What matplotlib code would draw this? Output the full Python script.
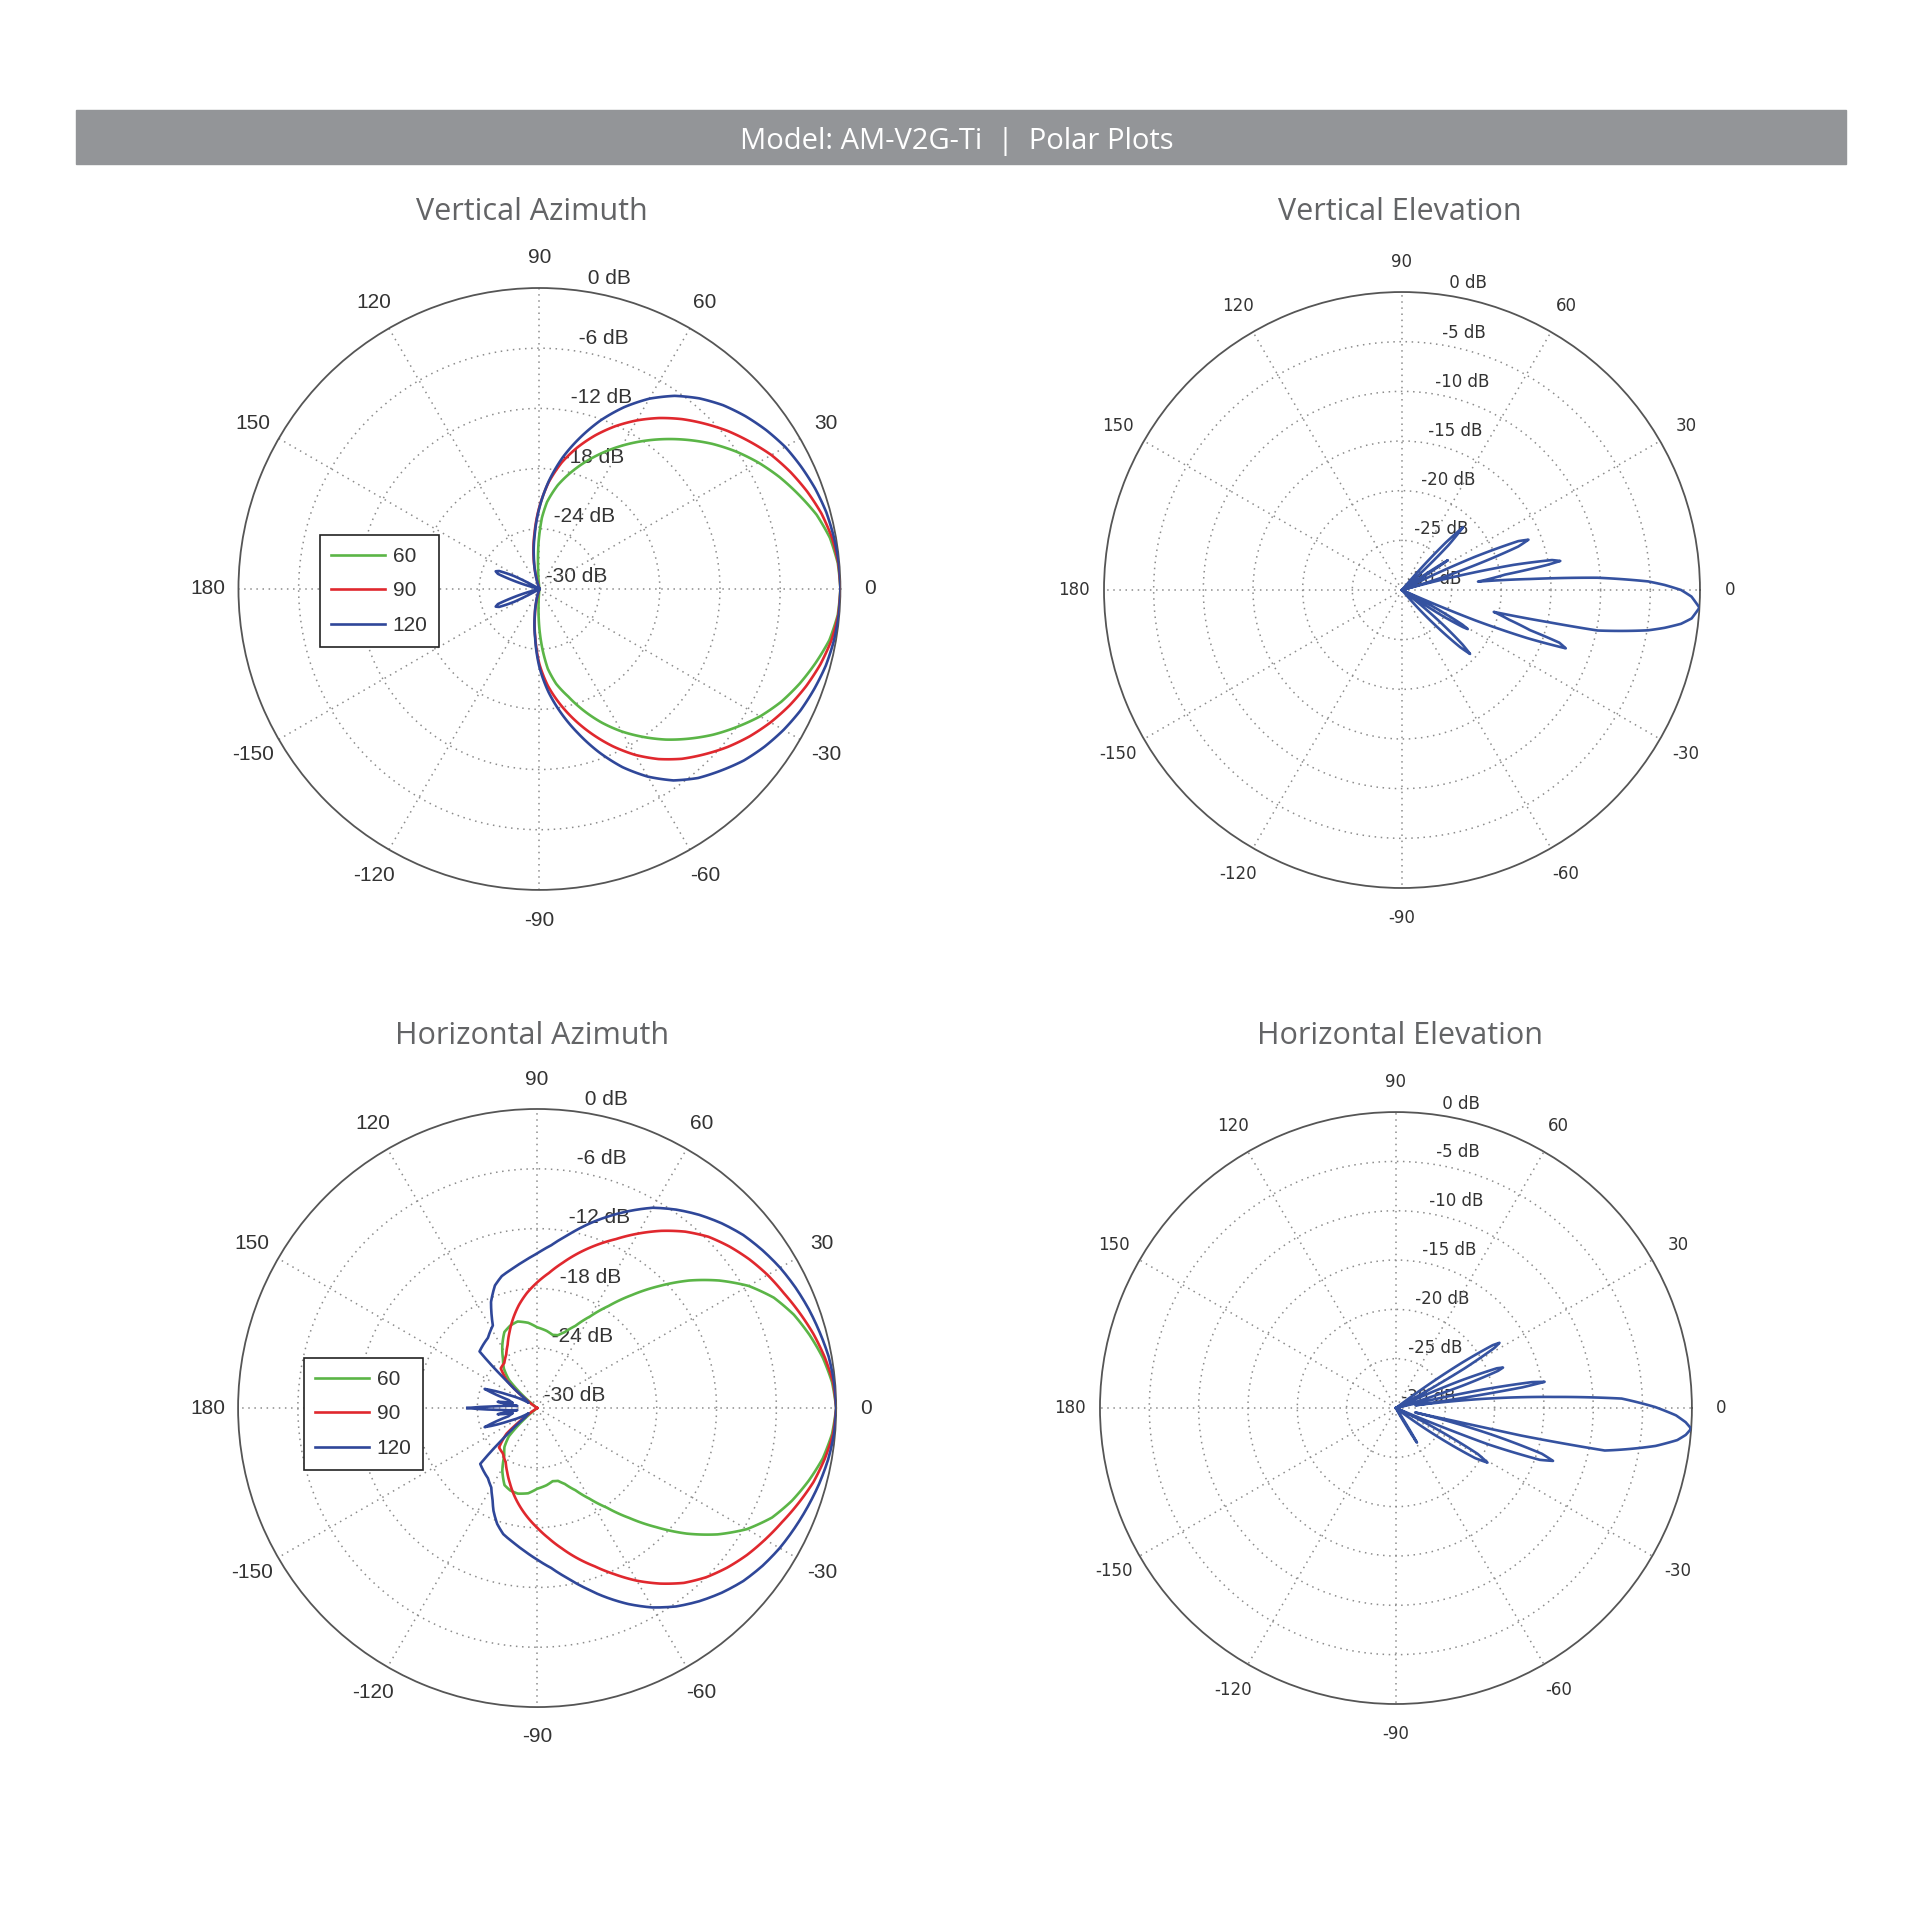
#polar plots for AM-V2G-Ti antenna patterns
import matplotlib
matplotlib.use('Agg')
import matplotlib.pyplot as plt
from matplotlib.patches import Rectangle
import numpy as np

# Vertical Azimuth (dB vs angle in degrees)
va60_ang = [-180, -96, -93, -90, -87, -84, -80, -75, -70, -65, -60, -55, -50, -45, -40, -35, -30, -25, -20, -15, -10, -5, 0, 5, 10, 15, 20, 25, 30, 35, 40, 45, 50, 55, 60, 65, 70, 75, 80, 85, 88, 91, 94, 97, 180]
va60_db = [-30, -30, -28.3, -26.0, -23.9, -22.0, -20.4, -18.9, -17.1, -15.3, -13.6, -12.0, -10.4, -8.9, -7.4, -6.0, -4.6, -3.4, -2.4, -1.5, -0.65, -0.15, 0, -0.15, -0.6, -1.4, -2.5, -3.6, -4.8, -6.1, -7.5, -9.0, -10.5, -12.0, -13.5, -15.0, -16.5, -18.0, -19.5, -21.3, -22.9, -25.3, -28.2, -30, -30]
va90_ang = [-180, -108, -104, -100, -95, -90, -85, -80, -75, -70, -65, -60, -55, -50, -45, -40, -35, -30, -25, -20, -15, -10, -5, 0, 5, 10, 15, 20, 25, 30, 35, 40, 45, 50, 55, 60, 65, 70, 75, 80, 85, 90, 95, 100, 104, 108, 180]
va90_db = [-30, -30, -28.8, -27.4, -25.2, -22.5, -20.3, -18.4, -16.5, -14.6, -12.7, -10.9, -9.3, -7.9, -6.7, -5.5, -4.4, -3.4, -2.5, -1.7, -1.0, -0.45, -0.1, 0, -0.1, -0.4, -0.9, -1.6, -2.4, -3.3, -4.4, -5.5, -6.7, -7.9, -9.2, -10.6, -12.1, -13.7, -15.4, -17.2, -19.3, -21.8, -24.4, -26.6, -28.3, -30, -30]
va120_ang = [-180, -166, -162.5, -160, -158, -156, -153, -150, -110, -104, -100, -95, -90, -85, -80, -75, -70, -65, -60, -55, -50, -45, -40, -35, -30, -25, -20, -15, -10, -5, 0, 5, 10, 15, 20, 25, 30, 35, 40, 45, 50, 55, 60, 65, 70, 75, 80, 85, 90, 95, 100, 104, 110, 150, 153, 156, 158, 160, 162.5, 166, 180]
va120_db = [-30, -30, -27.5, -25.6, -25.3, -25.6, -27.2, -30, -30, -28.6, -27.3, -25.1, -22.2, -19.7, -17.4, -15.1, -12.7, -10.4, -8.4, -6.7, -5.4, -4.4, -3.4, -2.6, -1.9, -1.3, -0.85, -0.45, -0.2, -0.05, 0, -0.05, -0.2, -0.4, -0.75, -1.2, -1.7, -2.4, -3.2, -4.1, -5.2, -6.5, -8.1, -10.0, -12.1, -14.4, -16.7, -19.2, -21.9, -24.6, -26.8, -28.2, -30, -30, -27.2, -25.6, -25.3, -25.6, -27.5, -30, -30]

# Horizontal Azimuth
ha60_ang = [-180, -142, -135, -130, -124.6, -119, -112.9, -108, -102.7, -96, -90, -83, -78, -74, -70, -65, -60, -55, -50, -45, -40, -35, -30, -25, -20, -15, -10, -5, 0, 5, 10, 15, 20, 25, 30, 35, 40, 45, 50, 55, 60, 65, 70, 74, 78, 83, 90, 96, 102.7, 108, 113.3, 119, 124.8, 130, 135, 142, 180]
ha60_db = [-30, -30, -26, -24.9, -24.2, -22.8, -21.6, -21.3, -21.2, -21.4, -21.9, -22.2, -22.5, -22.4, -21.9, -20.9, -19.5, -17.8, -15.6, -13.1, -10.4, -7.9, -5.7, -4.0, -2.8, -1.8, -0.9, -0.3, 0, -0.3, -0.9, -1.7, -2.6, -3.8, -5.5, -7.7, -10.1, -12.7, -15.2, -17.5, -19.4, -20.9, -21.9, -22.4, -22.5, -22.2, -21.9, -21.4, -21.1, -21.3, -21.7, -22.8, -24.0, -24.8, -26, -30, -30]
ha90_ang = [-180, -146, -140, -134, -127, -120, -115, -110, -105, -100, -95, -90, -85, -80, -75, -70, -65, -60, -55, -50, -45, -40, -35, -30, -25, -20, -15, -10, -5, 0, 5, 10, 15, 20, 25, 30, 35, 40, 45, 50, 55, 60, 65, 70, 75, 80, 85, 90, 95, 100, 105, 110, 115, 120, 126, 132.5, 138, 145, 180]
ha90_db = [-30, -30, -26, -24.5, -24.3, -23.7, -22.9, -22.0, -21.0, -20.0, -19.0, -18.0, -16.9, -15.7, -14.4, -13.1, -11.6, -10.0, -8.5, -7.1, -6.0, -5.1, -4.3, -3.6, -2.9, -2.1, -1.3, -0.7, -0.2, 0, -0.2, -0.7, -1.3, -2.0, -2.7, -3.3, -4.0, -4.8, -5.7, -6.9, -8.3, -9.8, -11.3, -12.6, -13.9, -15.2, -16.4, -17.4, -18.4, -19.5, -20.7, -21.9, -23.0, -23.8, -24.4, -24.6, -26, -30, -30]
ha120_ang = [-180, -177.5, -174, -171, -168, -164, -160, -155, -148, -142, -138, -135.5, -125, -120, -116, -113, -109, -105, -100, -95, -90, -85, -80, -75, -70, -65, -60, -55, -50, -45, -40, -35, -30, -25, -20, -15, -10, -5, 0, 5, 10, 15, 20, 25, 30, 35, 40, 45, 50, 55, 60, 65, 70, 75, 80, 85, 90, 95, 100, 105, 109, 113.5, 118.2, 125, 135.5, 138, 142, 148, 155, 160, 164, 168, 171, 174, 177.5, 180]
ha120_db = [-23.0, -26, -28, -26, -27.5, -27, -24.4, -27, -29, -28.5, -25.5, -22.0, -21.4, -20.8, -19.8, -18.8, -17.7, -16.9, -16.3, -15.6, -14.8, -13.9, -12.7, -11.3, -9.8, -8.3, -6.9, -5.7, -4.7, -3.8, -3.0, -2.4, -1.9, -1.5, -1.1, -0.7, -0.35, -0.1, 0, -0.1, -0.3, -0.65, -1.0, -1.4, -1.85, -2.4, -3.0, -3.8, -4.7, -5.7, -6.8, -8.2, -9.6, -11.0, -12.4, -13.6, -14.5, -15.2, -15.8, -16.3, -17.0, -18.4, -20.6, -21.4, -21.9, -25.5, -28.5, -29, -27, -24.4, -27, -27.5, -26, -28, -26, -23.0]

# Vertical Elevation
ve_ang = [-180, -50, -46.5, -44.5, -43.2, -42, -40, -37, -34, -32.5, -31.3, -30.7, -29.8, -28.3, -26.5, -24, -22.5, -21, -19.6, -18.5, -17.4, -15.5, -13.4, -12.4, -11.7, -9.3, -8.2, -6.9, -5.6, -3.4, -1.3, 0, 1.1, 2.0, 3.6, 4.9, 6.3, 8.5, 9.8, 10.4, 11.3, 12.7, 15.5, 18.5, 20.5, 21.7, 22.8, 24.5, 26.5, 31, 33, 35, 41, 44, 45.8, 47.3, 50, 180]
ve_db = [-30, -30, -25, -21.8, -20.6, -21.8, -25, -30, -30, -25, -22.8, -22.3, -23, -26, -30, -30, -22, -16.5, -12.5, -13.3, -16.5, -18.8, -20.5, -15.0, -9.9, -4.9, -3.3, -1.7, -0.7, 0, -0.85, -1.9, -3.55, -5.2, -10.3, -17.0, -22.3, -19.5, -15.2, -13.8, -14.6, -18.5, -30, -23, -17.5, -16.3, -17.3, -22, -30, -30, -24.5, -30, -30, -23.5, -21.2, -23.5, -30, -30]

# Horizontal Elevation
he_ang = [-180, -62, -60, -58.7, -57.5, -56, -37, -34.5, -32.3, -30.8, -29.3, -27.5, -25, -23, -21.5, -19.8, -18.6, -17.4, -15.5, -13, -12.5, -12.4, -11.5, -8.3, -6.5, -5.3, -4.0, -2.8, -1.5, 0.2, 2.4, 4.0, 5.9, 7.3, 8, 8.5, 9.3, 10, 10.8, 12, 13.5, 16.5, 18.5, 20, 20.7, 21.5, 23, 25, 28, 30, 31.4, 32.2, 33, 34.5, 37, 180]
he_db = [-30, -30, -28, -25.9, -28, -30, -30, -25, -20.5, -19.2, -20.5, -25, -30, -30, -20, -14.5, -13.2, -14.5, -20, -28, -24, -17.0, -8.4, -3.4, -1.3, -0.5, 0, -0.6, -1.6, -3.7, -7.1, -13.9, -20.7, -26, -28, -24, -17, -14.7, -16, -21, -30, -30, -23, -19, -18.4, -19, -23, -30, -30, -22, -18.3, -17.6, -18.3, -22, -30, -30]

legend_labels = ['60', '90', '120']
theta_ticks = [0, 30, 60, 90, 120, 150, 180, 210, 240, 270, 300, 330]
theta_labels = ['0', '30', '60', '90', '120', '150', '180', '-150', '-120', '-90', '-60', '-30']
az_rings = [-30, -24, -18, -12, -6, 0]
el_rings = [-30, -25, -20, -15, -10, -5, 0]

GREEN = '#5bb547'
RED = '#e0282e'
BLUE = '#2f4799'
TXT = '#333333'


def setup(ax, rings, fs, tick_font):
    rinc = rings[1] - rings[0]
    ax.set_ylim(-30, 0)
    ax.set_xticks(np.deg2rad(theta_ticks))
    ax.set_xticklabels([])
    ax.set_yticks(rings[1:-1])
    ax.set_yticklabels([])
    ax.grid(True, color='#8c8c8c', linestyle=(0, (1, 3)), linewidth=1.1)
    ax.spines['polar'].set_color('#555555')
    ax.spines['polar'].set_linewidth(1.3)
    for a, lab in zip(theta_ticks, theta_labels):
        ax.text(np.deg2rad(a), 3.0, lab, ha='center', va='center',
                fontsize=fs, color=TXT, family=tick_font)
    for d in rings:
        ax.text(np.deg2rad(82), d + rinc / 20.0, ' %d dB' % d, ha='left',
                va='bottom', fontsize=fs, color=TXT, family=tick_font, zorder=1)


def trace(ax, a, d, c):
    l, = ax.plot(np.deg2rad(a), d, color=c, lw=1.9, zorder=3)
    # let the polar transform draw each segment along the polar grid
    l.get_path()._interpolation_steps = 12
    return l


fig = plt.figure(figsize=(19.2, 19.2), dpi=100)
fig.patches.append(Rectangle((76 / 1920, 1 - 164 / 1920), 1770 / 1920, 54 / 1920,
                             transform=fig.transFigure, color='#939598', zorder=0))
fig.text(957 / 1920, 1 - 141 / 1920, 'Model: AM-V2G-Ti  |  Polar Plots', color='white',
         fontsize=21, family='Open Sans', ha='center', va='center')

titles = [('Vertical Azimuth', 532, 212), ('Vertical Elevation', 1400, 212),
          ('Horizontal Azimuth', 532, 1036), ('Horizontal Elevation', 1400, 1036)]
for t, x, y in titles:
    fig.text(x / 1920, 1 - y / 1920, t, color='#636466', fontsize=22,
             family='Open Sans', ha='center', va='center')

ax1 = fig.add_axes([0.1242, 0.5365, 0.3135, 0.3135], projection='polar')
ax2 = fig.add_axes([0.575, 0.5375, 0.3104, 0.3104], projection='polar')
ax3 = fig.add_axes([0.124, 0.1109, 0.3115, 0.3115], projection='polar')
ax4 = fig.add_axes([0.5729, 0.1125, 0.3083, 0.3083], projection='polar')

# azimuth plots
for ax, data, anchor in [(ax1, [(va60_ang, va60_db), (va90_ang, va90_db), (va120_ang, va120_db)], (0.135, 0.589)),
                         (ax3, [(ha60_ang, ha60_db), (ha90_ang, ha90_db), (ha120_ang, ha120_db)], (0.110, 0.583))]:
    setup(ax, az_rings, 15, 'Liberation Sans')
    lines = [trace(ax, a, d, c) for (a, d), c in zip(data, [GREEN, RED, BLUE])]
    leg = ax.legend(lines, legend_labels, loc='upper left', bbox_to_anchor=anchor,
                    borderaxespad=0, fancybox=False, edgecolor='#222222',
                    handlelength=2.6, handletextpad=0.35, labelspacing=0.75,
                    borderpad=0.55, framealpha=1,
                    prop={'family': 'Liberation Sans', 'size': 15})
    leg.get_frame().set_linewidth(1.2)
    for tx in leg.get_texts():
        tx.set_color(TXT)

# elevation plots
for ax, a, d in [(ax2, ve_ang, ve_db), (ax4, he_ang, he_db)]:
    setup(ax, el_rings, 12, 'DejaVu Sans')
    trace(ax, a, d, '#3552a0')

fig.savefig('out.png', dpi=100, facecolor='white')
